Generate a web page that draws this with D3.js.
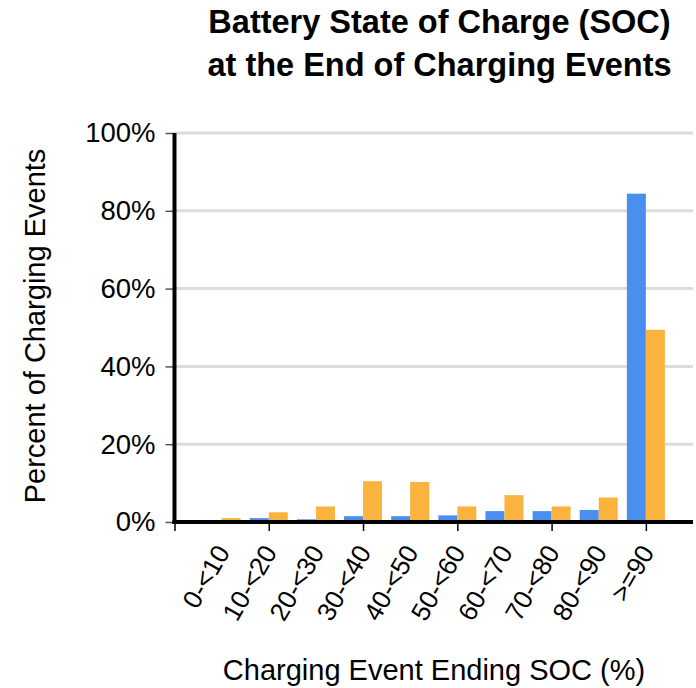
<!DOCTYPE html>
<html>
<head>
<meta charset="utf-8">
<script src="https://cdn.jsdelivr.net/npm/d3@7"></script>
<style>
  body { margin: 0; background: #fff; }
  svg { display: block; font-family: "Liberation Sans", Arial, sans-serif; }
</style>
</head>
<body>
<svg width="696" height="688"></svg>
<script>
// categorias y valores
const categories = ["0-<10", "10-<20", "20-<30", "30-<40", "40-<50", "50-<60", "60-<70", "70-<80", "80-<90", ">=90"];
const blueValues = [0.5, 1.0, 0.7, 1.5, 1.5, 1.7, 2.8, 2.8, 3.1, 84.4];
const orangeValues = [1.0, 2.5, 4.0, 10.5, 10.3, 4.0, 6.9, 4.0, 6.3, 49.4];
const yTicks = [0, 20, 40, 60, 80, 100];
const xTicks = [0, 2, 4, 6, 8, 10];

const svg = d3.select("svg");
const plotLeft = 174.5, plotRight = 693, plotTop = 133, plotBottom = 522;
const barW = 19;

const x = d3.scaleLinear().domain([0, 11]).range([plotLeft, plotRight]);
const y = d3.scaleLinear().domain([0, 100]).range([plotBottom, plotTop]);

// Titulo
const title = svg.append("text")
  .attr("text-anchor", "middle")
  .attr("font-weight", "bold")
  .attr("font-size", 32.5);
title.append("tspan").attr("x", 439.5).attr("y", 33).text("Battery State of Charge (SOC)");
title.append("tspan").attr("x", 439.5).attr("y", 76).text("at the End of Charging Events");

// Lineas de cuadricula
svg.append("g")
  .selectAll("line")
  .data(yTicks.filter(d => d > 0))
  .enter()
  .append("line")
  .attr("x1", plotLeft)
  .attr("x2", plotRight)
  .attr("y1", d => y(d))
  .attr("y2", d => y(d))
  .attr("stroke", "#dcdcdc")
  .attr("stroke-width", 3);

// Eje Y
const yAxis = svg.append("g")
  .attr("transform", `translate(${plotLeft},0)`)
  .call(d3.axisLeft(y).tickValues(yTicks).tickSize(9).tickPadding(10).tickFormat(d => d + "%"));
yAxis.select(".domain").remove();
yAxis.selectAll(".tick line").attr("stroke", "#555").attr("stroke-width", 1.5);
yAxis.selectAll(".tick text")
  .attr("font-size", 27.5)
  .attr("font-family", "Liberation Sans, Arial, sans-serif")
  .attr("fill", "#000");

// Barras
const groups = svg.append("g")
  .selectAll("g")
  .data(categories)
  .enter()
  .append("g");

groups.append("rect")
  .attr("x", (d, i) => x(i + 1) - barW)
  .attr("y", (d, i) => y(blueValues[i]))
  .attr("width", barW)
  .attr("height", (d, i) => y(0) - y(blueValues[i]))
  .attr("fill", "#4a8ff0");

groups.append("rect")
  .attr("x", (d, i) => x(i + 1))
  .attr("y", (d, i) => y(orangeValues[i]))
  .attr("width", barW)
  .attr("height", (d, i) => y(0) - y(orangeValues[i]))
  .attr("fill", "#fbb340");

// Eje X
const xAxis = svg.append("g")
  .attr("transform", `translate(0,${plotBottom})`)
  .call(d3.axisBottom(x).tickValues(xTicks).tickSize(9).tickFormat(""));
xAxis.select(".domain").remove();
xAxis.selectAll(".tick line").attr("stroke", "#000").attr("stroke-width", 1.5);

// Lineas de los ejes
svg.append("line")
  .attr("x1", plotLeft).attr("x2", plotLeft)
  .attr("y1", plotTop).attr("y2", plotBottom + 2)
  .attr("stroke", "#000").attr("stroke-width", 4);
svg.append("line")
  .attr("x1", plotLeft - 2).attr("x2", plotRight)
  .attr("y1", plotBottom).attr("y2", plotBottom)
  .attr("stroke", "#000").attr("stroke-width", 4);

// Etiquetas de categoria giradas
svg.append("g")
  .selectAll("text")
  .data(categories)
  .enter()
  .append("text")
  .attr("text-anchor", "end")
  .attr("font-size", 26)
  .attr("transform", (d, i) => `translate(${x(i + 1) + 9},${plotBottom + 30}) rotate(-60)`)
  .text(d => d);

// Titulos de los ejes
svg.append("text")
  .attr("text-anchor", "middle")
  .attr("font-size", 29)
  .attr("x", 434)
  .attr("y", 680)
  .text("Charging Event Ending SOC (%)");

svg.append("text")
  .attr("text-anchor", "middle")
  .attr("font-size", 29)
  .attr("transform", "translate(45,326) rotate(-90)")
  .text("Percent of Charging Events");
</script>
</body>
</html>
